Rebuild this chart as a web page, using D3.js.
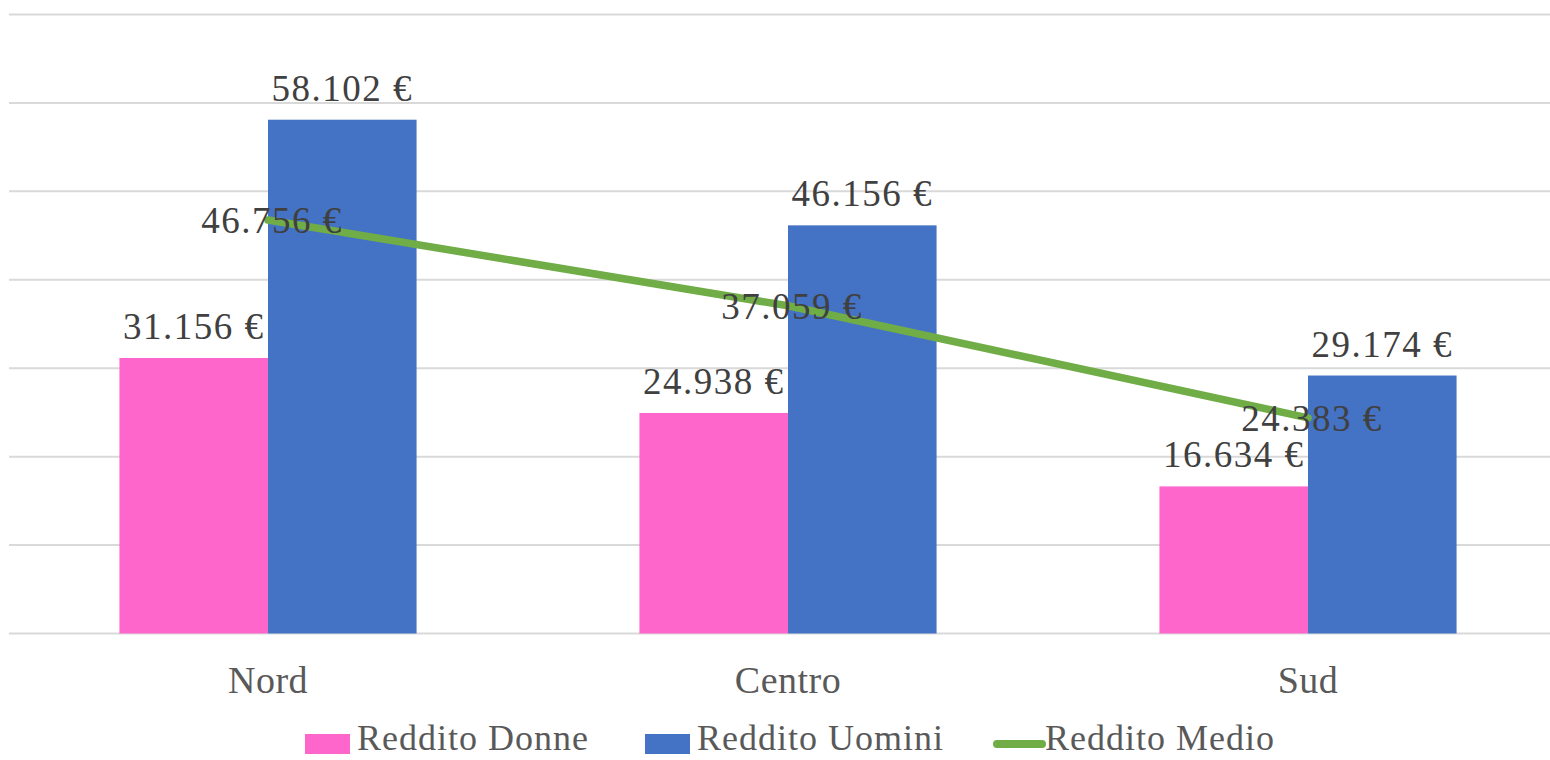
<!DOCTYPE html>
<html>
<head>
<meta charset="utf-8">
<script src="https://cdn.jsdelivr.net/npm/d3@7"></script>
<style>
  body { margin: 0; background: #fff; }
  svg { display: block; font-family: "Liberation Serif", "DejaVu Serif", serif; }
</style>
</head>
<body>
<div id="chart"></div>
<script>
// data
const categories = ["Nord", "Centro", "Sud"];
const seriesNames = ["Reddito Donne", "Reddito Uomini", "Reddito Medio"];
const redditoDonne = [31156, 24938, 16634];
const redditoUomini = [58102, 46156, 29174];
const redditoMedio = [46756, 37059, 24383];
const yTicks = [0, 10000, 20000, 30000, 40000, 50000, 60000, 70000];

const colors = { donne: "#FF66CC", uomini: "#4472C4", medio: "#70AD47" };

const width = 1550, height = 760;
const svg = d3.select("#chart").append("svg")
  .attr("width", width).attr("height", height);

const it = d3.formatLocale({ decimal: ",", thousands: ".", grouping: [3], currency: ["", " €"] });
const fmt = v => it.format(",")(v) + " €";

const x = d3.scaleBand().domain(categories).range([8, 1568]).padding(0);
const gapWidth = 1.5; // excel style gap, relative to one bar
const barW = x.bandwidth() / (2 + gapWidth);
const x1 = d3.scaleBand().domain(["donne", "uomini"])
  .range([barW * gapWidth / 2, barW * gapWidth / 2 + barW * 2]);
const y = d3.scaleLinear().domain([0, 70000]).range([633.5, 14.5]);

// gridlines
svg.append("g").selectAll("line").data(yTicks).join("line")
  .attr("x1", 9).attr("x2", width)
  .attr("y1", d => y(d)).attr("y2", d => y(d))
  .attr("stroke", "#D9D9D9").attr("stroke-width", 2);

const rows = categories.map((c, i) => ({ cat: c, donne: redditoDonne[i], uomini: redditoUomini[i], medio: redditoMedio[i] }));

// bars
const groups = svg.append("g").selectAll("g").data(rows).join("g")
  .attr("transform", d => `translate(${x(d.cat)},0)`);
groups.selectAll("rect").data(d => ["donne", "uomini"].map(k => ({ k, v: d[k] }))).join("rect")
  .attr("x", d => x1(d.k)).attr("width", x1.bandwidth())
  .attr("y", d => y(d.v)).attr("height", d => y(0) - y(d.v))
  .attr("fill", d => colors[d.k]);

// average line
const cx = c => x(c) + x.bandwidth() / 2;
svg.append("path").datum(rows)
  .attr("fill", "none").attr("stroke", colors.medio).attr("stroke-width", 7.5)
  .attr("stroke-linecap", "round")
  .attr("d", d3.line().x(d => cx(d.cat)).y(d => y(d.medio)));

// bar labels
groups.selectAll("text").data(d => ["donne", "uomini"].map(k => ({ k, v: d[k] }))).join("text")
  .attr("x", d => x1(d.k) + x1.bandwidth() / 2)
  .attr("y", d => y(d.v) - 19)
  .attr("text-anchor", "middle")
  .attr("font-size", 37).attr("letter-spacing", 1.5).attr("fill", "#404040")
  .text(d => fmt(d.v));

// line labels
svg.append("g").selectAll("text").data(rows).join("text")
  .attr("x", d => cx(d.cat) + 4)
  .attr("y", d => y(d.medio))
  .attr("dy", "0.35em")
  .attr("text-anchor", "middle")
  .attr("font-size", 37).attr("letter-spacing", 1.5).attr("fill", "#404040")
  .text(d => fmt(d.medio));

// category axis labels
svg.append("g").selectAll("text").data(categories).join("text")
  .attr("x", d => cx(d)).attr("y", 693)
  .attr("text-anchor", "middle")
  .attr("font-size", 38).attr("letter-spacing", 0.5).attr("fill", "#595959")
  .text(d => d);

// legend
const legend = svg.append("g").attr("font-size", 36).attr("letter-spacing", 1).attr("fill", "#595959");
const legendX = [305, 645, 993];
seriesNames.forEach((name, i) => {
  const g = legend.append("g").attr("transform", `translate(${legendX[i]},744)`);
  if (i < 2) {
    g.append("rect").attr("x", 0).attr("y", -10).attr("width", 45).attr("height", 20)
      .attr("fill", i === 0 ? colors.donne : colors.uomini);
  } else {
    g.append("line").attr("x1", 4).attr("x2", 49).attr("y1", 0).attr("y2", 0)
      .attr("stroke", colors.medio).attr("stroke-width", 8).attr("stroke-linecap", "round");
  }
  g.append("text").attr("x", 52).attr("y", 6).text(name);
});
</script>
</body>
</html>
